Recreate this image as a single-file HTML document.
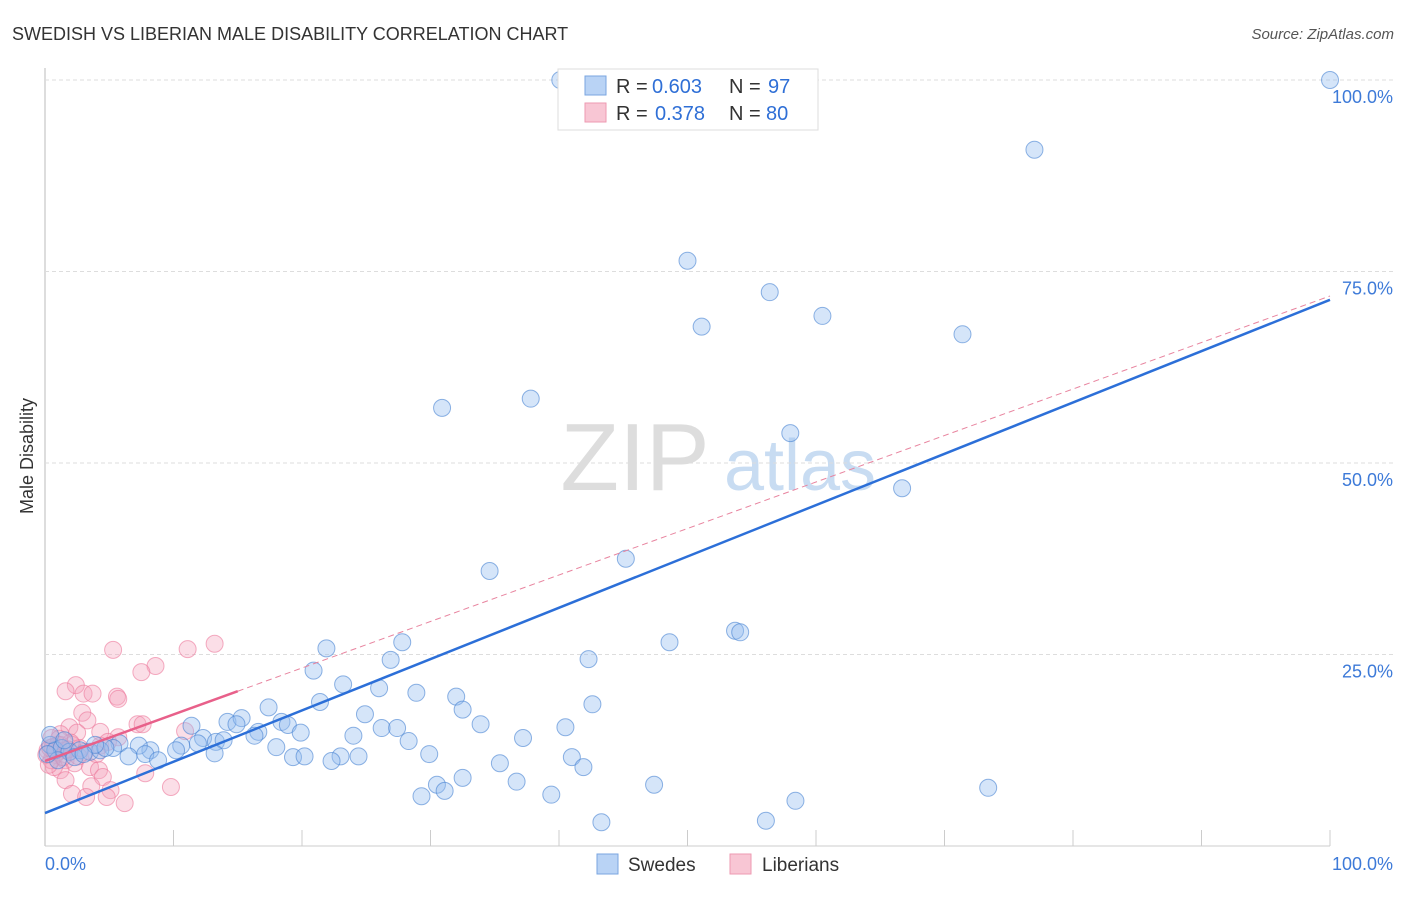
<!DOCTYPE html>
<html><head><meta charset="utf-8"><style>
body{margin:0;background:#fff;font-family:"Liberation Sans",sans-serif}
svg text{font-family:"Liberation Sans",sans-serif}
</style></head><body>
<svg id="c" width="1406" height="892">
<text x="12" y="40" font-size="18" fill="#333">SWEDISH VS LIBERIAN MALE DISABILITY CORRELATION CHART</text>
<text x="1394" y="39" font-size="15" fill="#555" font-style="italic" text-anchor="end">Source: ZipAtlas.com</text>
<text x="33" y="456" font-size="18" fill="#333" text-anchor="middle" transform="rotate(-90 33 456)">Male Disability</text>
<g><text x="635" y="490" font-size="96" fill="#ddd" font-family="Liberation Serif,serif" text-anchor="middle">ZIP</text><text x="800" y="490" font-size="72" fill="#c8dcf2" text-anchor="middle">atlas</text></g>
<g id="grid"></g><g id="marks"></g>
<g>
<rect x="558" y="69" width="260" height="61" fill="#fff" stroke="#ddd"/>
<rect x="585" y="76" width="21" height="19" fill="#b9d3f5" stroke="#7aa6e0"/>
<rect x="585" y="103" width="21" height="19" fill="#f8c6d4" stroke="#ee9ab2"/>
<text x="616" y="93" font-size="20" fill="#333">R =</text><text x="652" y="93" font-size="20" fill="#2f6fd6">0.603</text>
<text x="729" y="93" font-size="20" fill="#333">N =</text><text x="768" y="93" font-size="20" fill="#2f6fd6">97</text>
<text x="616" y="120" font-size="20" fill="#333">R =</text><text x="655" y="120" font-size="20" fill="#2f6fd6">0.378</text>
<text x="729" y="120" font-size="20" fill="#333">N =</text><text x="766" y="120" font-size="20" fill="#2f6fd6">80</text>
</g>
<g>
<rect x="597" y="854" width="21" height="20" fill="#b9d3f5" stroke="#7aa6e0"/><text x="628" y="871" font-size="19" fill="#333">Swedes</text>
<rect x="730" y="854" width="21" height="20" fill="#f8c6d4" stroke="#ee9ab2"/><text x="762" y="871" font-size="19" fill="#333">Liberians</text>
</g>
</svg>
<script>
const blueX=[40.1,100,77.0,50.0,56.4,51.1,60.5,71.4,37.8,30.9,58.0,66.7,34.6,45.2,53.7,54.1,48.6,27.8,21.9,42.3,26.9,20.9,23.2,26.0,28.9,32.0,21.4,17.4,32.5,42.6,24.9,33.9,11.4,14.2,15.3,18.4,18.9,14.9,26.2,27.4,40.5,16.6,19.9,24.0,37.2,12.3,13.3,13.9,16.3,28.3,10.6,10.2,11.9,18.0,8.2,7.3,5.8,5.3,6.5,7.8,8.8,13.2,19.3,20.2,23.0,24.4,29.9,41.0,22.3,35.4,41.9,30.5,31.1,32.5,36.7,47.4,73.4,29.3,39.4,58.4,43.3,56.1,0.4,0.8,1.3,1.9,2.7,3.5,4.3,4.7,0.4,1.0,2.3,3.9,0.2,1.5,3.0];
const blueY=[100,100,90.9,76.4,72.3,67.8,69.2,66.8,58.4,57.2,53.9,46.7,35.9,37.5,28.1,27.9,26.6,26.6,25.8,24.4,24.3,22.9,21.1,20.6,20.0,19.5,18.8,18.1,17.8,18.5,17.2,15.9,15.7,16.2,16.7,16.2,15.8,15.9,15.4,15.4,15.5,14.9,14.8,14.4,14.1,14.1,13.6,13.8,14.4,13.7,13.1,12.5,13.4,12.9,12.5,13.1,13.4,12.8,11.7,12.0,11.2,12.1,11.6,11.7,11.7,11.7,12.0,11.6,11.1,10.8,10.3,8.0,7.2,8.9,8.4,8.0,7.6,6.5,6.7,5.9,3.1,3.3,13.2,12.5,12.8,12.3,12.5,12.3,12.5,12.8,14.5,11.2,11.6,13.2,12.0,13.8,12.0];
const pinkX=[5.3,11.1,13.2,8.6,7.5,2.4,1.6,3.0,3.7,5.6,5.7,2.9,3.3,7.2,7.6,1.9,10.9,1.2,2.5,4.3,5.7,1.2,2.1,2.7,4.3,4.9,0.8,1.6,2.3,3.5,4.2,1.2,0.7,7.8,4.5,1.6,3.6,5.1,2.1,3.2,9.8,4.8,6.2,0.5,0.2,0.5,1.0,1.6,0.1,0.4,0.9,1.4,2.0,3.1,4.0,0.3,1.1,2.6,0.6,1.8];
const pinkY=[25.6,25.7,26.4,23.5,22.7,21.0,20.2,19.9,19.9,19.5,19.2,17.4,16.4,15.9,15.9,15.5,15.0,14.6,14.8,14.9,14.2,13.2,13.2,12.8,13.1,13.6,11.9,11.2,10.8,10.3,9.9,9.9,10.3,9.5,9.0,8.6,7.8,7.3,6.8,6.4,7.7,6.4,5.6,14.1,12.5,11.2,13.2,12.5,11.9,12.8,12.2,11.6,13.5,12.3,12.0,10.6,14.0,11.7,12.9,12.6];
const yTicks=[25,50,75,100];
const blueLine=[4.3,71.3];
const pinkLine=[11.1,0.607];
const X=v=>45+v*12.85, Y=v=>846-v*7.66;
const NS='http://www.w3.org/2000/svg';
function mk(tag,attrs,parent){const e=document.createElementNS(NS,tag);for(const k in attrs)e.setAttribute(k,attrs[k]);parent.appendChild(e);return e;}
const g=document.getElementById('grid'), m=document.getElementById('marks');
let ax=mk('line',{x1:45,y1:68,x2:45,y2:846,stroke:'#bbb'},g);


let bx=mk('line',{x1:45,y1:846,x2:1330,y2:846,stroke:'#ccc'},g);


yTicks.forEach(t=>{
 let l=mk('line',{x1:45,y1:Y(t),x2:1394,y2:Y(t),stroke:'#ddd','stroke-dasharray':'4,3'},g);
 
 
 let tx=mk('text',{x:1393,y:Y(t)+23,'font-size':18,fill:'#3d7ad8','text-anchor':'end'},g);tx.textContent=t.toFixed(1)+'%';
 
 
});
for(let i=1;i<=10;i++){let l=mk('line',{x1:X(i*10),y1:830,x2:X(i*10),y2:846,stroke:'#ccc'},g);
 
 }
let x0=mk('text',{x:45,y:870,'font-size':18,fill:'#3d7ad8'},g);x0.textContent='0.0%';


let x1=mk('text',{x:1393,y:870,'font-size':18,fill:'#3d7ad8','text-anchor':'end'},g);x1.textContent='100.0%';


pinkX.forEach((v,i)=>{let c=mk('circle',{cx:X(v),cy:Y(pinkY[i]),r:8.5,fill:'rgba(244,160,186,0.35)',stroke:'rgba(236,120,155,0.6)'},m);
 
 });
blueX.forEach((v,i)=>{let c=mk('circle',{cx:X(v),cy:Y(blueY[i]),r:8.5,fill:'rgba(150,190,240,0.4)',stroke:'rgba(70,130,210,0.6)'},m);
 
 });
let pd=mk('line',{x1:X(15),y1:Y(pinkLine[0]+15*pinkLine[1]),x2:X(100),y2:Y(pinkLine[0]+100*pinkLine[1]),stroke:'#e8849f','stroke-dasharray':'6,4','stroke-width':1},m);


let ps=mk('line',{x1:X(0),y1:Y(pinkLine[0]),x2:X(15),y2:Y(pinkLine[0]+15*pinkLine[1]),stroke:'#e8608a','stroke-width':2.5},m);


let bl=mk('line',{x1:X(0),y1:Y(blueLine[0]),x2:X(100),y2:Y(blueLine[1]),stroke:'#2c6fd8','stroke-width':2.5},m);


</script>
</body></html>
